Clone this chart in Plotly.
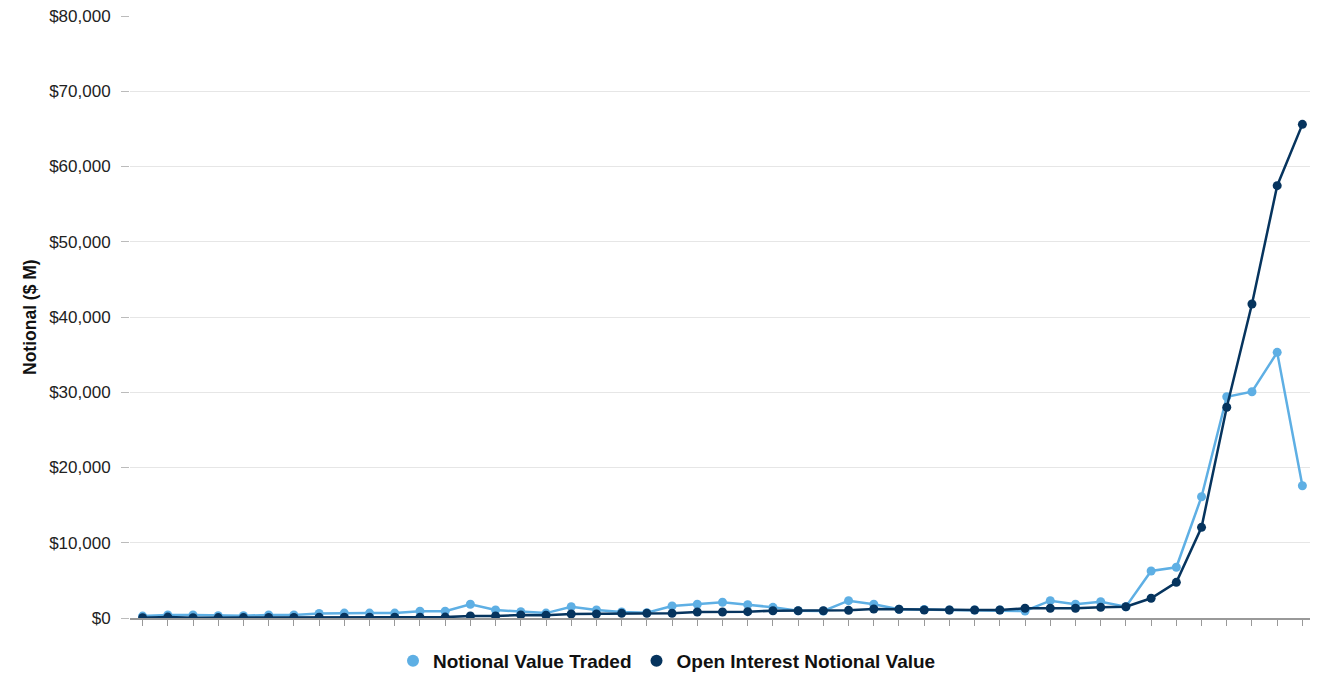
import plotly.graph_objects as go

periods = [str(i) for i in range(1, 48)]

notional_value_traded = [
    250, 400, 400, 300, 300, 400, 400, 600, 650, 650, 650, 900, 900, 1820, 1060, 840,
    650, 1500, 1060, 800, 700, 1600, 1820, 2090, 1770, 1420, 970, 930, 2300, 1820, 1160,
    1130, 1060, 1060, 1060, 930, 2300, 1820, 2170, 1500, 6250, 6740, 16120, 29400, 30070,
    35300, 17580,
]

open_interest_notional_value = [
    30, 120, 30, 50, 50, 80, 80, 100, 100, 100, 100, 100, 120, 260, 260, 400,
    360, 530, 530, 620, 620, 620, 800, 800, 840, 970, 970, 970, 1020, 1200, 1160,
    1060, 1060, 1060, 1060, 1290, 1290, 1290, 1420, 1500, 2620, 4740, 12050, 28000, 41730,
    57450, 65600,
]

y_ticks = [0, 10000, 20000, 30000, 40000, 50000, 60000, 70000, 80000]
y_tick_labels = ["$0", "$10,000", "$20,000", "$30,000", "$40,000", "$50,000",
                 "$60,000", "$70,000", "$80,000"]

series_names = ["Notional Value Traded", "Open Interest Notional Value"]

light = "#5EAFE4"
dark = "#06345E"
FONT = "Liberation Sans, Arial, sans-serif"

# page body has an 8px margin: figure is sized/offset to compensate
W, H = 1310, 665
ML, MR, MT, MB = 122, 3, 8, 0
paper_w = W - ML - MR
paper_h = H - MT - MB
bottom_gap = 55  # space below the plot area

fig = go.Figure()
for name, vals, col in [(series_names[0], notional_value_traded, light),
                        (series_names[1], open_interest_notional_value, dark)]:
    fig.add_trace(go.Scatter(
        x=periods, y=vals, name=name, showlegend=False,
        mode="lines+markers", line=dict(color=col, width=2.5),
        marker=dict(color=col, size=9),
    ))
# legend entries (circle symbol only)
for name, col in [(series_names[0], light), (series_names[1], dark)]:
    fig.add_trace(go.Scatter(
        x=[None], y=[None], name=name, mode="markers",
        marker=dict(color=col, size=12), showlegend=True,
    ))

fig.update_layout(
    width=W, height=H,
    margin=dict(l=ML, r=MR, t=MT, b=MB, autoexpand=False),
    paper_bgcolor="white", plot_bgcolor="white",
    font=dict(family=FONT, size=13, color="#222222"),
    showlegend=True,
    legend=dict(orientation="h", x=(659 - ML) / paper_w, xanchor="center",
                y=(H - 653 - MB) / paper_h, yanchor="middle",
                bgcolor="rgba(0,0,0,0)",
                font=dict(size=19, color="#111111", family=FONT, weight="bold"),
                itemwidth=30, traceorder="normal"),
    xaxis=dict(
        type="category", range=[-0.5, 46.5], showticklabels=False, automargin=False,
        ticks="outside", ticklen=6, tickcolor="#999999", tickwidth=1,
        showline=True, linecolor="#999999", linewidth=2, showgrid=False, zeroline=False,
    ),
    yaxis=dict(
        range=[0, 80000], tickvals=y_ticks, ticktext=y_tick_labels, automargin=False,
        domain=[bottom_gap / paper_h, 1], ticklabeloverflow="allow",
        ticks="outside", ticklen=8, tickcolor="#bbbbbb", ticklabelstandoff=7,
        showgrid=True, gridcolor="#e6e6e6", gridwidth=1, zeroline=False,
        showline=False, tickfont=dict(size=17, color="#222222"),
    ),
    annotations=[dict(
        text="<b>Notional ($ M)</b>", xref="paper", yref="paper",
        x=(22 - ML) / paper_w, y=(bottom_gap / paper_h + 1) / 2,
        xanchor="center", yanchor="middle",
        textangle=-90, showarrow=False,
        font=dict(size=17.5, color="#111111", family=FONT),
    )],
)

fig.write_html("out.html")
